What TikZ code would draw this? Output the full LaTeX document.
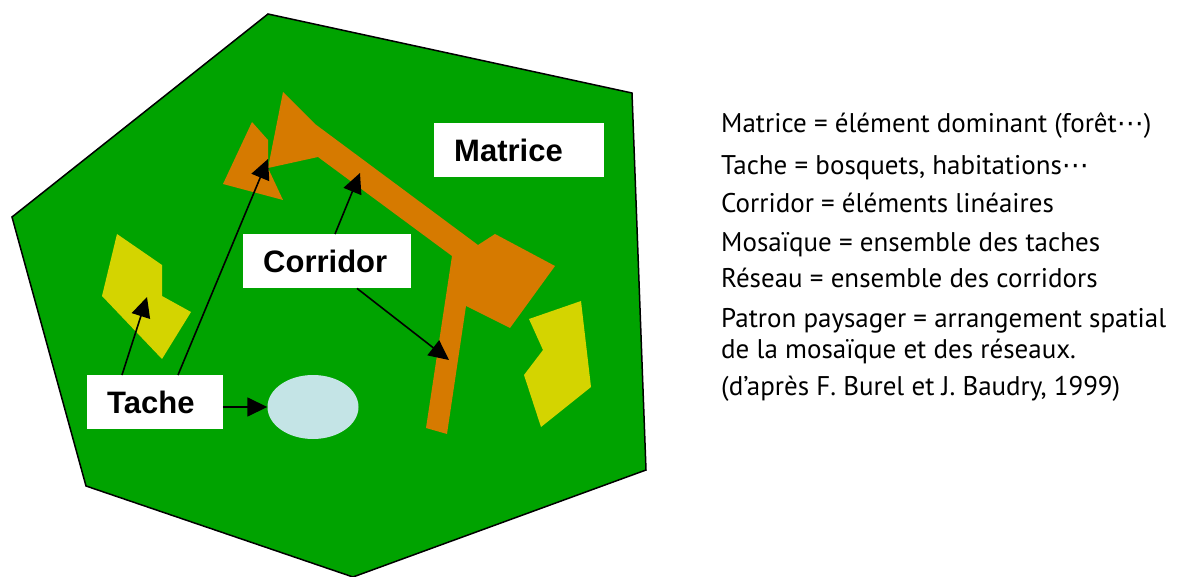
\documentclass[tikz,border=0pt]{standalone}
\usepackage{fontspec}
\setmainfont{PT Sans}
\newfontfamily\labelfont{Liberation Sans}
\newfontfamily\dotsfont{DejaVu Sans}
\usetikzlibrary{arrows.meta,shapes.geometric}
\definecolor{MatriceGreen}{HTML}{00A300}
\definecolor{CorridorOrange}{HTML}{D67A00}
\definecolor{TacheYellow}{HTML}{D4D400}
\definecolor{PondBlue}{HTML}{C4E4E6}
\newcommand{\suite}{{\dotsfont ⋯}}

\begin{document}
\begin{tikzpicture}[x=1pt,y=-1pt,
    labelbox/.style={fill=white, inner xsep=20pt, inner ysep=0pt, minimum height=54pt,
      align=left, anchor=north west, font=\labelfont\bfseries\fontsize{31}{31}\selectfont},
    pointer/.style={-{Triangle[length=20pt,width=19pt]}, line width=1.6pt},
    legend/.style={anchor=base west, inner sep=0pt, font=\fontsize{27}{27}\selectfont}]
    \useasboundingbox (0,0) rectangle (1178,577);
    \filldraw[fill=MatriceGreen, draw=black, line width=1.5pt]
      (268,14) -- (632,93) -- (646,470) -- (353,577) -- (86,486) -- (12,217) -- cycle;
    \fill[CorridorOrange] (252,122) -- (268,140) -- (268,168) -- (283,200) -- (223,184) -- cycle;
    \fill[CorridorOrange] (283,92) -- (315,124) -- (478,245) -- (495,234) -- (555,266)
      -- (510,328) -- (466,306) -- (447,434) -- (426,428) -- (452,256) -- (318,157) -- (268,168) -- cycle;
    \fill[TacheYellow] (117,234) -- (162,265) -- (162,296) -- (191,312) -- (162,359) -- (102,296) -- cycle;
    \fill[TacheYellow] (529,319) -- (581,301) -- (591,387) -- (541,427) -- (524,375) -- (543,350) -- cycle;
    \node[ellipse, fill=PondBlue, minimum width=91pt, minimum height=64pt, inner sep=0pt] (etang) at (313,407) {};
    \node[labelbox, text width=130pt] (matrice) at (434,123) {Matrice};
    \node[labelbox, text width=128pt] (corridor) at (243,234) {Corridor};
    \node[labelbox, text width=96pt] (tache) at (87,375) {Tache};
    \coordinate (tipBosquet) at (147,297);
    \coordinate (tipTriangle) at (268,159);
    \coordinate (tipBand) at (360,173);
    \coordinate (tipStem) at (449,360);
    \draw[pointer] ([xshift=35pt]tache.north west) -- (tipBosquet);
    \draw[pointer] ([xshift=91pt]tache.north west) -- (tipTriangle);
    \draw[pointer] (tache.east |- etang.west) -- (etang.west);
    \draw[pointer] ([xshift=92pt]corridor.north west) -- (tipBand);
    \draw[pointer] ([xshift=114pt]corridor.south west) -- (tipStem);
    \node[legend] (l1) at (721,133) {Matrice = élément dominant (forêt\suite)};
    \node[legend] (l2) at (721,175) {Tache = bosquets, habitations\suite};
    \node[legend] (l3) at (721,213) {Corridor = éléments linéaires};
    \node[legend] (l4) at (721,252) {Mosaïque = ensemble des taches};
    \node[legend] (l5) at (721,288) {Réseau = ensemble des corridors};
    \node[legend] (l6) at (721,327) {Patron paysager = arrangement spatial};
    \node[legend] (l7) at (721,358) {de la mosaïque et des réseaux.};
    \node[legend] (l8) at (721,395) {(d’après F. Burel et J. Baudry, 1999)};
  \end{tikzpicture}
\end{document}
